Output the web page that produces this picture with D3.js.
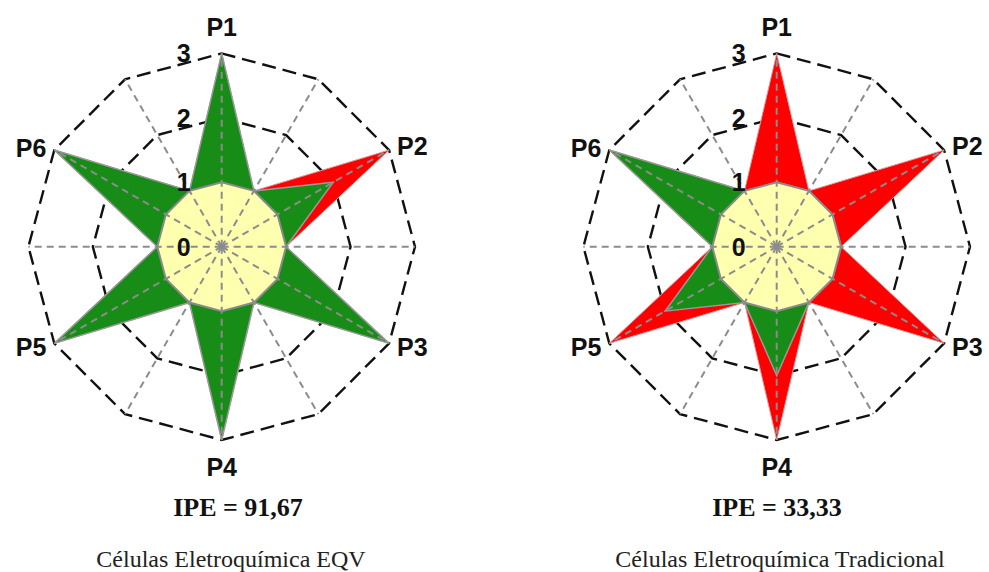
<!DOCTYPE html>
<html>
<head>
<meta charset="utf-8">
<script src="https://cdn.jsdelivr.net/npm/d3@7"></script>
<style>
  html, body { margin: 0; padding: 0; background: #fff; }
  svg { display: block; }
</style>
</head>
<body>
<svg id="chart" width="989" height="572"></svg>
<script>
// ---------- DATA ----------
const categories = ["P1", "P2", "P3", "P4", "P5", "P6"];
const levelTicks = [0, 1, 2, 3];
const idealValues = [3, 3, 3, 3, 3, 3];
const eqvValues = [3, 2, 3, 3, 3, 3];
const tradValues = [1, 1, 1, 2, 2, 3];
const innerValue = 1;           // value on the intermediate axes / yellow core
const ipeLabels = ["IPE = 91,67", "IPE = 33,33"];
const chartTitles = ["Células Eletroquímica EQV", "Células Eletroquímica Tradicional"];

const charts = [
  { actual: eqvValues, ipe: ipeLabels[0], title: chartTitles[0], cx: 221.7, ix: 238, tx: 231 },
  { actual: tradValues, ipe: ipeLabels[1], title: chartTitles[1], cx: 776.7, ix: 777, tx: 780 }
];

// ---------- LAYOUT / STYLE ----------
const cy = 246.7;
const R = 193.3;
const r = d3.scaleLinear().domain([0, 3]).range([0, R]);
const nAxes = categories.length * 2;   // 12 axes, P-axes on even indices
const angle = d3.scaleLinear().domain([0, nAxes]).range([0, 2 * Math.PI]);

const GREEN = "#178c17", RED = "#ff0000", YELLOW = "#ffffb0";

const svg = d3.select("#chart");

// Build the 12-point star values: P value on even axes, innerValue between
function starValues(vals) {
  const out = [];
  vals.forEach(v => { out.push(v); out.push(innerValue); });
  return out;
}
const radial = d3.lineRadial()
  .angle((d, i) => angle(i))
  .radius(d => r(d))
  .curve(d3.curveLinearClosed);

charts.forEach(c => {
  const g = svg.append("g").attr("transform", `translate(${c.cx},${cy})`);

  // grid dodecagons (levels 2 and 3)
  [2, 3].forEach(lv => {
    g.append("path")
      .attr("d", radial(d3.range(nAxes).map(() => lv)))
      .attr("fill", "none")
      .attr("stroke", "#111")
      .attr("stroke-width", 2.4)
      .attr("stroke-dasharray", "14,7");
  });

  // ideal (red) star
  g.append("path")
    .attr("d", radial(starValues(idealValues)))
    .attr("fill", RED)
    .attr("stroke", "#d99")
    .attr("stroke-width", 1);

  // actual (green) star
  g.append("path")
    .attr("d", radial(starValues(c.actual)))
    .attr("fill", GREEN)
    .attr("stroke", "#999")
    .attr("stroke-width", 1.5);

  // yellow core (level 1)
  g.append("path")
    .attr("d", radial(d3.range(nAxes).map(() => innerValue)))
    .attr("fill", YELLOW)
    .attr("stroke", "#8a8a8a")
    .attr("stroke-width", 2);

  // spokes
  d3.range(nAxes).forEach(i => {
    const a = angle(i);
    g.append("line")
      .attr("x1", 0).attr("y1", 0)
      .attr("x2", r(3) * Math.sin(a))
      .attr("y2", -r(3) * Math.cos(a))
      .attr("stroke", "#8c8c8c")
      .attr("stroke-width", 2)
      .attr("stroke-dasharray", "7,5");
  });

  // level labels
  g.selectAll(".lvl").data(levelTicks).enter().append("text")
    .attr("x", -38)
    .attr("y", d => -r(d))
    .attr("dy", "0.36em")
    .attr("text-anchor", "middle")
    .style("font-family", "'Liberation Sans', Arial, sans-serif")
    .style("font-weight", "bold")
    .style("font-size", "25px")
    .attr("fill", "#111")
    .text(d => d);

  // category labels
  categories.forEach((cat, k) => {
    const a = angle(k * 2);
    const px = r(3) * Math.sin(a), py = -r(3) * Math.cos(a);
    let x = px, y = py, anchor = "middle";
    if (k === 0) { y = py - 26; }
    else if (k === 3) { y = py + 27; }
    else if (k === 1 || k === 2) { x = px + 8; anchor = "start"; y = py + (k === 1 ? -4 : 4); }
    else { x = px - 8; anchor = "end"; y = py + (k === 5 ? -2 : 4); }
    g.append("text")
      .attr("x", x).attr("y", y)
      .attr("dy", "0.36em")
      .attr("text-anchor", anchor)
      .style("font-family", "'Liberation Sans', Arial, sans-serif")
      .style("font-weight", "bold")
      .style("font-size", "25px")
      .attr("fill", "#111")
      .text(cat);
  });

  // IPE and title
  svg.append("text")
    .attr("x", c.ix).attr("y", 516)
    .attr("text-anchor", "middle")
    .style("font-family", "'Liberation Serif', 'Times New Roman', serif")
    .style("font-weight", "bold")
    .style("font-size", "26px")
    .attr("fill", "#111")
    .text(c.ipe);

  svg.append("text")
    .attr("x", c.tx).attr("y", 567)
    .attr("text-anchor", "middle")
    .style("font-family", "'Liberation Serif', 'Times New Roman', serif")
    .style("font-size", "24px")
    .attr("fill", "#222")
    .text(c.title);
});
</script>
</body>
</html>
